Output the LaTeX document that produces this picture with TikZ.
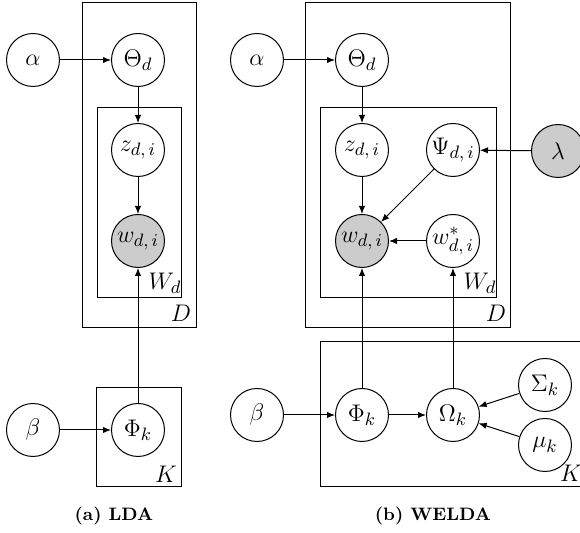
\documentclass[tikz,border=0pt]{standalone}
\usetikzlibrary{arrows.meta}
\begin{document}
\begin{tikzpicture}[x=0.5pt,y=-0.5pt,
  var/.style={circle,draw,line width=0.5pt,minimum size=26.5pt,inner sep=0pt,
    font=\fontsize{12.5}{14}\selectfont},
  obs/.style={var,fill=black!20},
  plate/.style={draw,line width=0.5pt},
  platelabel/.style={inner sep=0pt,font=\fontsize{12.5}{14}\selectfont},
  edge/.style={-{Latex[length=4pt,width=3.2pt]},line width=0.5pt},
  caption/.style={font=\fontsize{9}{11}\selectfont\bfseries}]
\useasboundingbox (0,0) rectangle (580,533);

% ---------- (a) LDA ----------
\draw[plate] (82,3) rectangle (196,328);     % documents D
\draw[plate] (97,108) rectangle (181,298);   % words W_d
\draw[plate] (96,388) rectangle (181,487);   % topics K
\node[platelabel] (aD) at (181,313) {$D$};
\node[platelabel] (aW) at (165,283) {$W_d$};
\node[platelabel] (aK) at (166,474) {$K$};

\node[var] (aalpha) at (33,60)   {$\alpha$};
\node[var] (atheta) at (138,60)  {$\Theta_d$};
\node[var] (az)     at (138,150) {$z_{d,\,i}$};
\node[obs] (aw)     at (138,241) {$w_{d,\,i}$};
\node[var] (abeta)  at (33,430)  {$\beta$};
\node[var] (aphi)   at (138,430) {$\Phi_k$};

\draw[edge] (aalpha) -- (atheta);
\draw[edge] (atheta) -- (az);
\draw[edge] (az) -- (aw);
\draw[edge] (abeta) -- (aphi);
\draw[edge] (aphi) -- (aw);

\node[caption] (acap) at (114,516) {(a) LDA};

% ---------- (b) WELDA ----------
\draw[plate] (305,3) rectangle (510,328);    % documents D
\draw[plate] (320,108) rectangle (496,298);  % words W_d
\draw[plate] (320,342) rectangle (587,487);  % topics K
\node[platelabel] (bD) at (496,313) {$D$};
\node[platelabel] (bW) at (480,283) {$W_d$};
\node[platelabel] (bK) at (571,473) {$K$};

\node[var] (balpha) at (257,60)  {$\alpha$};
\node[var] (btheta) at (362,60)  {$\Theta_d$};
\node[var] (bz)     at (362,150) {$z_{d,\,i}$};
\node[var] (bpsi)   at (453,150) {$\Psi_{d,\,i}$};
\node[obs] (blambda) at (558,151) {$\lambda$};
\node[obs] (bw)     at (362,241) {$w_{d,\,i}$};
\node[var] (bws)    at (453,241) {$w^{*}_{d,\,i}$};
\node[var] (bbeta)  at (257,415) {$\beta$};
\node[var] (bphi)   at (362,415) {$\Phi_k$};
\node[var] (bomega) at (453,415) {$\Omega_k$};
\node[var] (bsigma) at (545,385) {$\Sigma_k$};
\node[var] (bmu)    at (545,445) {$\mu_k$};

\draw[edge] (balpha) -- (btheta);
\draw[edge] (btheta) -- (bz);
\draw[edge] (bz) -- (bw);
\draw[edge] (blambda) -- (bpsi);
\draw[edge] (bpsi) -- (bw);
\draw[edge] (bws) -- (bw);
\draw[edge] (bbeta) -- (bphi);
\draw[edge] (bphi) -- (bomega);
\draw[edge] (bsigma) -- (bomega);
\draw[edge] (bmu) -- (bomega);
\draw[edge] (bphi) -- (bw);
\draw[edge] (bomega) -- (bws);

\node[caption] (bcap) at (433,516) {(b) WELDA};
\end{tikzpicture}
\end{document}
